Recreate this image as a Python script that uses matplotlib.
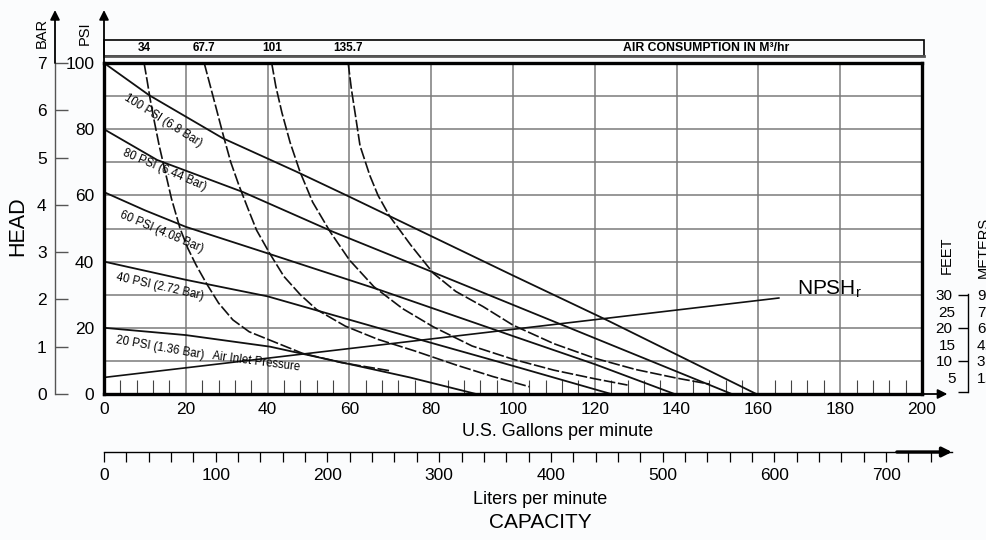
import matplotlib
matplotlib.use('Agg')
import matplotlib.pyplot as plt
from matplotlib.ticker import MultipleLocator, FixedLocator, FixedFormatter
from matplotlib.patches import Rectangle

plt.rcParams['font.family'] = ['Liberation Sans', 'DejaVu Sans']
plt.rcParams['mathtext.fontset'] = 'custom'
plt.rcParams['mathtext.rm'] = 'Liberation Sans'

# ---------------- data ----------------
gpm_ticks = [0, 20, 40, 60, 80, 100, 120, 140, 160, 180, 200]
psi_ticks = [0, 20, 40, 60, 80, 100]
bar_ticks = [0, 1, 2, 3, 4, 5, 6, 7]
lpm_ticks = [0, 100, 200, 300, 400, 500, 600, 700]
feet_ticks = [30, 25, 20, 15, 10, 5]
meter_labels = ['9.1', '7.6', '6', '4.6', '3', '1.5']

# inlet pressure curves (gpm, psi)
p100_x = [0, 11, 29, 47, 60, 100, 123, 159.5]
p100_y = [100, 90.3, 77.3, 67.2, 59.6, 35.8, 22.3, 0]
p80_x = [0, 13, 34, 56, 81, 109, 153.5]
p80_y = [80, 70.7, 61, 49, 36.5, 22.4, 0]
p60_x = [0, 10, 20, 40, 67.5, 100, 120, 139.5]
p60_y = [61, 55.5, 50.5, 42.5, 31.4, 17.5, 9, 0]
p40_x = [0, 20, 40, 67.5, 100, 124]
p40_y = [40, 34.5, 29.5, 19.8, 8.5, 0]
p20_x = [0, 20, 40.6, 74.8, 91]
p20_y = [20, 17.8, 14.3, 5, 0]

# NPSHr (gpm, feet)
npsh_x = [0, 165]
npsh_y = [5, 29]

# air consumption curves (gpm, psi), m3/hr
air_labels = ['34', '67.7', '101', '135.7']
a34_x = [9.8, 10.5, 11.3, 12.2, 13.5, 15, 16.5, 18.6, 20.5, 22.5, 25, 28, 31.5, 35.5, 40.5, 48.5, 58, 70]
a34_y = [100, 95, 89, 83, 75, 67, 59, 50, 44, 39, 33.5, 27.5, 22.4, 18.8, 16.3, 12.3, 9.5, 7]
a68_x = [24.5, 26, 27.5, 29.2, 31, 33, 35.2, 37.3, 40.5, 44, 48, 52, 59, 67, 76, 86, 95, 104]
a68_y = [100, 93, 86, 78, 70, 63, 56, 49.5, 42.5, 35.5, 30, 25.5, 20.5, 16.5, 13, 8.8, 5.3, 2.2]
a101_x = [41, 42, 43.5, 45.5, 47.9, 51, 55.3, 60, 66, 73, 80.5, 90, 100, 110, 120, 128]
a101_y = [100, 93, 85, 76, 67.2, 58, 49, 40.5, 32.4, 25.8, 20.3, 14.5, 10.5, 7.2, 4.6, 2.7]
a136_x = [59.7, 60.5, 61.5, 62.6, 65, 67, 69.9, 75, 80.5, 86, 92.7, 100, 110, 120, 130, 140, 148]
a136_y = [100, 92, 84, 75, 66, 60, 53.6, 45, 36.5, 31, 26.4, 20.8, 15.2, 10.8, 7.4, 4.8, 3]

# curve labels: text, gpm, psi, angle
curve_labels = [
    ('100 PSI (6.8 Bar)', 14.5, 82.6, -32),
    ('80 PSI (6.44 Bar)', 14.9, 67.7, -23),
    ('60 PSI (4.08 Bar)', 14.1, 49.0, -23),
    ('40 PSI (2.72 Bar)', 13.7, 32.4, -12.5),
    ('20 PSI (1.36 Bar)', 13.7, 13.9, -10),
    ('Air Inlet Pressure', 37.3, 9.8, -7.5),
]

# ---------------- figure ----------------
W, H = 987, 540
fig = plt.figure(figsize=(W / 100, H / 100), dpi=100, facecolor='#fbfcfd')


def box(x0, y0, x1, y1):
    return [x0 / W, 1 - y1 / H, (x1 - x0) / W, (y1 - y0) / H]


ax = fig.add_axes(box(104, 63, 922, 394))
ax.set_facecolor('white')
ax.set_xlim(0, 200)
ax.set_ylim(0, 100)
for s in ax.spines.values():
    s.set_linewidth(2.4)
    s.set_color('black')
    s.set_zorder(5)

ax.xaxis.set_major_locator(FixedLocator(gpm_ticks))
ax.xaxis.set_minor_locator(MultipleLocator(4))
ax.yaxis.set_major_locator(FixedLocator(psi_ticks))
ax.yaxis.set_minor_locator(MultipleLocator(10))
ax.grid(which='major', color='#7a7a7a', lw=1.1)
ax.grid(which='minor', axis='y', color='#7a7a7a', lw=1.1)
ax.tick_params(axis='x', which='major', length=0, pad=6, labelsize=12.5)
ax.tick_params(axis='x', which='minor', direction='in', length=10, width=0.8, color='#444')
ax.tick_params(axis='y', which='both', length=0, pad=7, labelsize=12.5)

solid = dict(color='#111', lw=1.3, zorder=3)
for xs, ys in [(p100_x, p100_y), (p80_x, p80_y), (p60_x, p60_y), (p40_x, p40_y), (p20_x, p20_y)]:
    ax.plot(xs, ys, **solid)
ax.plot(npsh_x, npsh_y, color='#111', lw=1.2, zorder=3, clip_on=False)

dashed = dict(color='#111', lw=1.2, dashes=(7, 1.6), zorder=3)
air_curves = [(a34_x, a34_y), (a68_x, a68_y), (a101_x, a101_y), (a136_x, a136_y)]
for xs, ys in air_curves:
    ax.plot(xs, ys, **dashed)

for txt, gx, py, ang in curve_labels:
    ax.text(gx, py, txt, fontsize=8.3, rotation=ang, rotation_mode='anchor',
            ha='center', va='center', zorder=4)

ax.text(169.4, 31.6, 'NPSH$_\\mathregular{r}$', fontsize=15, ha='left', va='center')

# air consumption box
ax.add_patch(Rectangle((0, 102.1), 200.5, 4.8, fill=False, lw=1.2, ec='black', clip_on=False))
ax.plot([0, 200.5], [102.1, 102.1], color='#555', lw=2.0, clip_on=False)
for lab, (xs, ys) in zip(air_labels, air_curves):
    ax.text(xs[0], 104.5, lab, fontsize=8.5, fontweight='bold', ha='center', va='center',
            clip_on=False)
ax.text(147.2, 104.5, 'AIR CONSUMPTION IN M\u00b3/hr', fontsize=8.8, fontweight='bold',
        ha='center', va='center')

# arrows on main axes
arrow = dict(arrowstyle='-|>', color='black', lw=1.3, mutation_scale=14, shrinkA=0, shrinkB=0)
ax.annotate('', xy=(0, 116), xytext=(0, 100), arrowprops=arrow, annotation_clip=False)
ax.annotate('', xy=(206.2, 0), xytext=(200, 0), arrowprops=arrow, annotation_clip=False)

fig.text(558 / W, 1 - 432 / H, 'U.S. Gallons per minute', fontsize=13, ha='center', va='center')

# BAR axis
axb = fig.add_axes(box(55, 63, 55.5, 394))
axb.set_ylim(0, 7)
axb.patch.set_visible(False)
for k in ['top', 'right', 'bottom']:
    axb.spines[k].set_visible(False)
axb.spines['left'].set_linewidth(1.0)
axb.spines['left'].set_color('#555')
axb.set_xticks([])
axb.set_yticks(bar_ticks)
axb.tick_params(axis='y', direction='in', length=9, width=1.0, color='#555', pad=6, labelsize=12.5)
axb.annotate('', xy=(0, 8.12), xytext=(0, 7), arrowprops=arrow, annotation_clip=False)

fig.text(42 / W, 1 - 33 / H, 'BAR', rotation=90, fontsize=10.5, ha='center', va='center')
fig.text(85 / W, 1 - 33 / H, 'PSI', rotation=90, fontsize=10.5, ha='center', va='center')
fig.text(18 / W, 1 - 226 / H, 'HEAD', rotation=90, fontsize=15.5, ha='center', va='center')

# NPSH (feet / meters) axis
axf = fig.add_axes(box(968, 63, 968.5, 394))
axf.set_ylim(0, 100)
axf.patch.set_visible(False)
for k in ['top', 'right', 'bottom']:
    axf.spines[k].set_visible(False)
axf.spines['left'].set_bounds(0.6, 30.3)
axf.spines['left'].set_linewidth(1.0)
axf.set_xticks([])
axf.yaxis.set_major_locator(FixedLocator([0.6, 10, 20, 30]))
axf.yaxis.set_major_formatter(FixedFormatter(['', '10', '20', '30']))
axf.yaxis.set_minor_locator(FixedLocator([5, 15, 25]))
axf.yaxis.set_minor_formatter(FixedFormatter(['5', '15', '25']))
axf.tick_params(axis='y', which='major', direction='out', length=7, width=1.0, pad=4, labelsize=11)
axf.tick_params(axis='y', which='minor', length=0, pad=9, labelsize=11)
axm = axf.twinx()
axm.set_ylim(0, 100)
for k in axm.spines:
    axm.spines[k].set_visible(False)
axm.set_yticks(feet_ticks)
axm.set_yticklabels(meter_labels)
axm.tick_params(axis='y', length=0, pad=6, labelsize=11)
fig.text(947 / W, 1 - 255 / H, 'FEET', rotation=90, fontsize=10.5, ha='center', va='center')
fig.text(984 / W, 1 - 247 / H, 'METERS', rotation=90, fontsize=10.5, ha='center', va='center')

# Liters axis
axl = fig.add_axes(box(104, 451, 952, 452))
axl.set_xlim(0, 759)
axl.patch.set_visible(False)
for k in ['top', 'right', 'left']:
    axl.spines[k].set_visible(False)
axl.spines['bottom'].set_linewidth(1.0)
axl.set_yticks([])
axl.xaxis.set_major_locator(FixedLocator(lpm_ticks))
axl.xaxis.set_minor_locator(MultipleLocator(20))
axl.tick_params(axis='x', which='both', direction='out', length=7, width=0.9, pad=4.5, labelsize=12.5)
axl.annotate('', xy=(1.0, 0), xytext=(0.935, 0), xycoords='axes fraction',
             arrowprops=dict(arrowstyle='-|>', color='black', lw=2.4, mutation_scale=14,
                             shrinkA=0, shrinkB=0), annotation_clip=False)
fig.text(540 / W, 1 - 499 / H, 'Liters per minute', fontsize=13, ha='center', va='center')
fig.text(540 / W, 1 - 523 / H, 'CAPACITY', fontsize=15, ha='center', va='center')

fig.savefig('out.png', dpi=100, facecolor=fig.get_facecolor())
